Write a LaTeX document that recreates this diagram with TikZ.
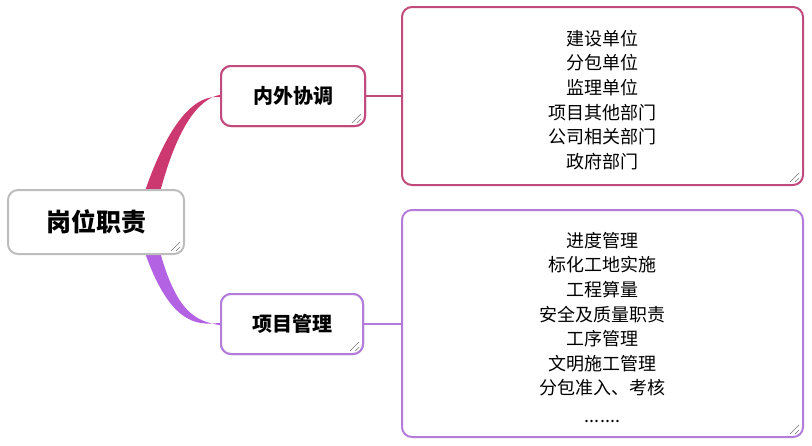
\documentclass[tikz,border=0pt]{standalone}
\usepackage{fontspec}
\setmainfont{Noto Sans CJK SC}
\usetikzlibrary{calc}
\definecolor{pinkline}{HTML}{CC3870}
\definecolor{pinkborder}{HTML}{C04A7C}
\definecolor{purpline}{HTML}{B262E2}
\definecolor{purpborder}{HTML}{B47CDA}
\definecolor{grayborder}{HTML}{BDBDBD}
\definecolor{gripgray}{HTML}{777777}
\tikzset{
  box/.style={draw, line width=2pt, rounded corners=10pt, fill=white, align=center, inner sep=0pt},
  mainbox/.style={box, draw=grayborder, minimum width=176pt, minimum height=64pt, font=\fontsize{25}{30}\selectfont\bfseries},
  pinkbox/.style={box, draw=pinkborder, minimum width=144pt, minimum height=60pt, font=\fontsize{20}{24}\selectfont\bfseries},
  purpbox/.style={box, draw=purpborder, minimum width=142pt, minimum height=60pt, font=\fontsize{20}{24}\selectfont\bfseries},
  listbox/.style={box, minimum width=401pt},
  listtext/.style={align=center, inner sep=0pt, font=\fontsize{18}{24.6}\selectfont},
  gripline/.style={draw=gripgray, line width=0.5pt},
  link/.style={line width=2pt}
}
\newcommand\gripmark[1]{%
  \draw[gripline] ([shift={(-14,-4)}]#1.south east) -- ([shift={(-5,-13)}]#1.south east);
  \draw[gripline] ([shift={(-9,-4)}]#1.south east) -- ([shift={(-5,-8)}]#1.south east);
}
\begin{document}
\begin{tikzpicture}[x=1pt,y=-1pt]
\useasboundingbox (0,0) rectangle (812,445);
% tapered connectors (drawn first, under the boxes)
\coordinate (ctop) at (150,200);
\coordinate (cbot) at (150,244);
\node[pinkbox] (n1) at (293,96) {内外协调};
\node[purpbox] (n2) at (292,324) {项目管理};
\fill[pinkline] ([xshift=-8pt]ctop) .. controls (168,120) and (196,94) .. ([yshift=-1.2pt]n1.west)
  -- ([yshift=1.2pt]n1.west) .. controls (198,99) and (176,128) .. ([xshift=8pt]ctop) -- cycle;
\fill[purpline] ([xshift=-8pt]cbot) .. controls (168,324) and (196,326) .. ([yshift=1.2pt]n2.west)
  -- ([yshift=-1.2pt]n2.west) .. controls (198,321) and (176,316) .. ([xshift=8pt]cbot) -- cycle;
\node[mainbox] (c) at (96,222) {岗位职责};
\node[pinkbox] at (n1) {内外协调};
\node[purpbox] at (n2) {项目管理};
% list boxes
\node[listbox, draw=pinkborder, minimum height=178pt] (b1) at (602.5,96) {};
\node[listtext] (t1) at ([yshift=-4pt]b1.center)
  {建设单位\\分包单位\\监理单位\\项目其他部门\\公司相关部门\\政府部门};
\node[listbox, draw=purpborder, minimum height=227pt] (b2) at (602.5,323.5) {};
\node[listtext] (t2) at ([yshift=-4pt]b2.center)
  {进度管理\\标化工地实施\\工程算量\\安全及质量职责\\工序管理\\文明施工管理\\分包准入、考核\\[3pt]\textrm{.......}};
% straight links
\draw[link, draw=pinkborder] (n1.east) -- (b1.west |- n1.east);
\draw[link, draw=purpborder] (n2.east) -- (b2.west |- n2.east);
% resize grips
\gripmark{c}
\gripmark{n1}
\gripmark{n2}
\gripmark{b1}
\gripmark{b2}
\end{tikzpicture}
\end{document}
